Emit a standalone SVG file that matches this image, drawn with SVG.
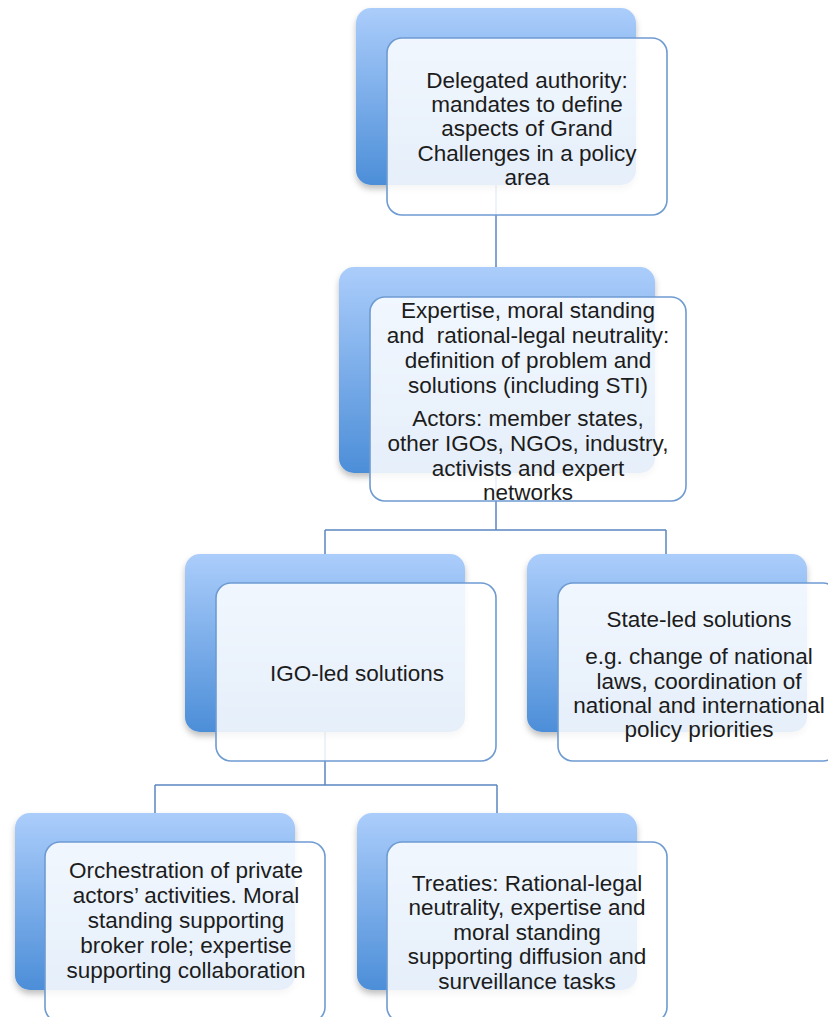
<svg xmlns="http://www.w3.org/2000/svg" width="828" height="1017" viewBox="0 0 828 1017">
<defs>
<linearGradient id="bg" x1="0" y1="0" x2="0" y2="1">
<stop offset="0" stop-color="#abcdfb"/>
<stop offset="1" stop-color="#4c8ed8"/>
</linearGradient>
<filter id="sh" x="-10%" y="-10%" width="130%" height="130%">
<feDropShadow dx="0" dy="4" stdDeviation="3" flood-color="#000" flood-opacity="0.25"/>
</filter>
<style>
.back{fill:url(#bg);filter:url(#sh)}
.front{fill:#ffffff;fill-opacity:0.86;stroke:#6e9bd2;stroke-width:1.6}
.t{font-family:"Liberation Sans",Arial,sans-serif;font-size:22.5px;fill:#1c1c1c;text-anchor:middle}
.c{fill:none;stroke:#5b87c2;stroke-width:1.5}
</style>
</defs>
<rect width="828" height="1017" fill="#ffffff"/>
<g id="connectors">
<path class="c" d="M496,185 V267"/>
<path class="c" d="M496,473 V530 M325,530 H666 M325,530 V554 M666,530 V554"/>
<path class="c" d="M325,732 V785 M155,785 H497 M155,785 V813 M497,785 V813"/>
</g>
<g id="n1">
<rect class="back" x="356" y="8" width="280" height="177" rx="15"/>
<rect class="front" x="387" y="38" width="280" height="177" rx="15"/>
<text class="t"><tspan x="527" y="88">Delegated authority:</tspan><tspan x="527" y="112">mandates to define</tspan><tspan x="527" y="136">aspects of Grand</tspan><tspan x="527" y="161">Challenges in a policy</tspan><tspan x="527" y="185">area</tspan></text>
</g>
<g id="n2">
<rect class="back" x="339" y="267" width="316" height="206" rx="15"/>
<rect class="front" x="370" y="297" width="316" height="204" rx="15"/>
<text class="t" xml:space="preserve"><tspan x="528" y="318">Expertise, moral standing</tspan><tspan x="528" y="343">and  rational-legal neutrality:</tspan><tspan x="528" y="368">definition of problem and</tspan><tspan x="528" y="393">solutions (including STI)</tspan><tspan x="528" y="426">Actors: member states,</tspan><tspan x="528" y="451">other IGOs, NGOs, industry,</tspan><tspan x="528" y="476">activists and expert</tspan><tspan x="528" y="500">networks</tspan></text>
</g>
<g id="n3">
<rect class="back" x="185" y="554" width="280" height="178" rx="15"/>
<rect class="front" x="216" y="583" width="280" height="178" rx="15"/>
<text class="t"><tspan x="357" y="681">IGO-led solutions</tspan></text>
</g>
<g id="n4">
<rect class="back" x="527" y="554" width="280" height="178" rx="15"/>
<rect class="front" x="558" y="583" width="280" height="178" rx="15"/>
<text class="t"><tspan x="699" y="627">State-led solutions</tspan><tspan x="699" y="664">e.g. change of national</tspan><tspan x="699" y="689">laws, coordination of</tspan><tspan x="699" y="713">national and international</tspan><tspan x="699" y="737">policy priorities</tspan></text>
</g>
<g id="n5">
<rect class="back" x="15" y="813" width="280" height="177" rx="15"/>
<rect class="front" x="45" y="842" width="280" height="180" rx="15"/>
<text class="t"><tspan x="186" y="878">Orchestration of private</tspan><tspan x="186" y="903">actors’ activities. Moral</tspan><tspan x="186" y="928">standing supporting</tspan><tspan x="186" y="953">broker role; expertise</tspan><tspan x="186" y="978">supporting collaboration</tspan></text>
</g>
<g id="n6">
<rect class="back" x="357" y="813" width="280" height="177" rx="15"/>
<rect class="front" x="387" y="842" width="280" height="180" rx="15"/>
<text class="t"><tspan x="527" y="891">Treaties: Rational-legal</tspan><tspan x="527" y="915">neutrality, expertise and</tspan><tspan x="527" y="940">moral standing</tspan><tspan x="527" y="964">supporting diffusion and</tspan><tspan x="527" y="989">surveillance tasks</tspan></text>
</g>
</svg>
